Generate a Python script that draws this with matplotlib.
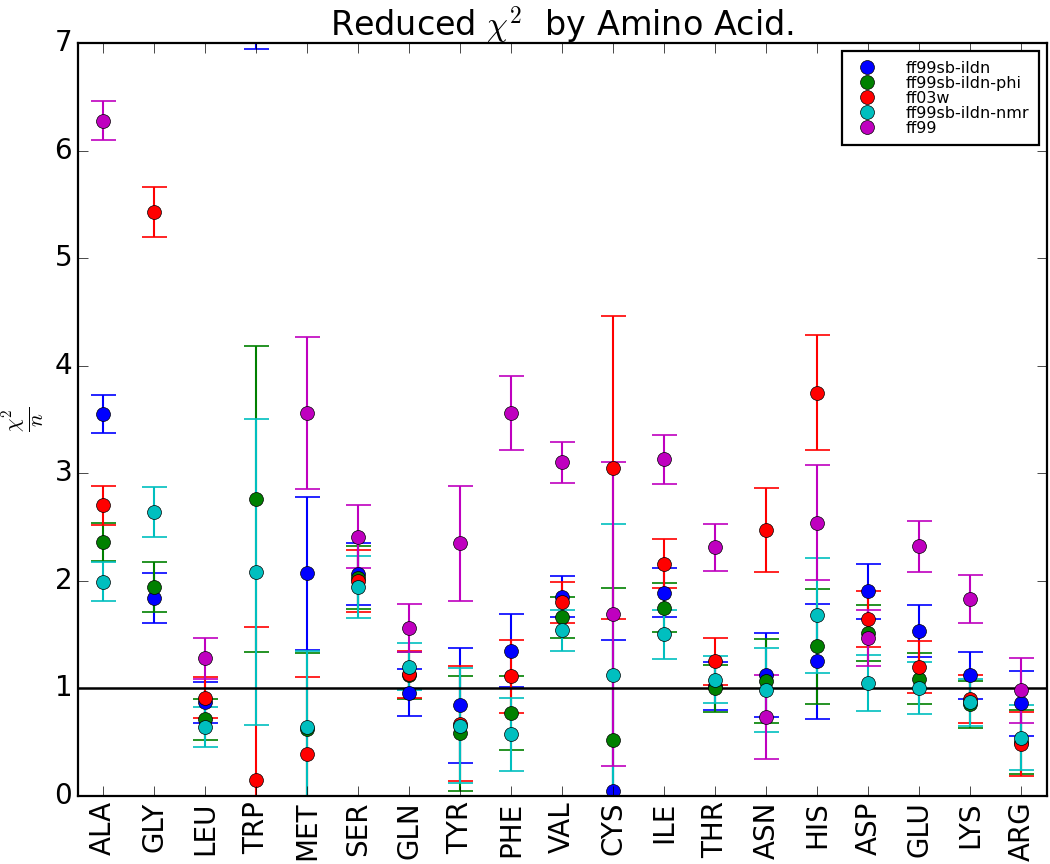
import numpy as np
import matplotlib
matplotlib.use("Agg")
import matplotlib.pyplot as plt
from matplotlib.lines import Line2D

plt.style.use("classic")
matplotlib.rcParams.update({
    "font.size": 20,
    "xtick.major.size": 7,
    "ytick.major.size": 7,
    "axes.linewidth": 1.6,
})

residues = ["ALA", "GLY", "LEU", "TRP", "MET", "SER", "GLN", "TYR", "PHE", "VAL",
            "CYS", "ILE", "THR", "ASN", "HIS", "ASP", "GLU", "LYS", "ARG"]

# reduced chi^2 per residue (values above 7 fall outside the plotted range)
ff99sb_ildn     = [3.55, 1.84, 0.87, 8.37, 2.07, 2.06, 0.96, 0.84, 1.35, 1.85,
                   0.04, 1.89, 1.02, 1.12, 1.25, 1.90, 1.53, 1.12, 0.86]
ff99sb_ildn_phi = [2.36, 1.94, 0.71, 2.76, 0.62, 2.03, 1.12, 0.58, 0.77, 1.66,
                   0.52, 1.75, 1.00, 1.07, 1.39, 1.51, 1.09, 0.85, 0.50]
ff03w           = [2.70, 5.43, 0.91, 0.15, 0.39, 2.00, 1.13, 0.67, 1.11, 1.80,
                   3.05, 2.16, 1.25, 2.47, 3.75, 1.64, 1.20, 0.90, 0.48]
ff99sb_ildn_nmr = [1.99, 2.64, 0.64, 2.08, 0.64, 1.94, 1.20, 0.65, 0.57, 1.54,
                   1.12, 1.50, 1.08, 0.98, 1.68, 1.05, 1.00, 0.87, 0.54]
ff99            = [6.28, 7.90, 1.28, 8.60, 3.56, 2.41, 1.56, 2.35, 3.56, 3.10,
                   1.69, 3.13, 2.31, 0.73, 2.54, 1.47, 2.32, 1.83, 0.98]

# error bar half-width per residue (same for every force field)
errors = [0.18, 0.23, 0.19, 1.42, 0.71, 0.29, 0.22, 0.535, 0.34, 0.19,
          1.41, 0.23, 0.22, 0.39, 0.535, 0.26, 0.24, 0.22, 0.30]

SERIES = [
    ("ff99sb-ildn",     ff99sb_ildn,     "b"),
    ("ff99sb-ildn-phi", ff99sb_ildn_phi, "g"),
    ("ff03w",           ff03w,           "r"),
    ("ff99sb-ildn-nmr", ff99sb_ildn_nmr, "c"),
    ("ff99",            ff99,            "m"),
]

fig = plt.figure(figsize=(10.5, 8.64), dpi=100)
ax = fig.add_axes([0.074, 0.079, 0.923, 0.871])

x = np.arange(len(residues))
handles = []
for label, vals, col in SERIES:
    ax.errorbar(x, vals, yerr=errors, fmt="o", color=col, ecolor=col,
                markeredgecolor="k", markersize=10, elinewidth=1.5,
                capsize=9, capthick=1.2)
    # legend shows the marker only
    handles.append(Line2D([], [], ls="none", marker="o", color=col,
                          markeredgecolor="k", markersize=10, label=label))

ax.axhline(1.0, color="k", lw=1.8)

ax.set_xlim(-0.5, len(residues) - 0.5)
ax.set_ylim(0, 7)
ax.set_xticks(x)
ax.set_xticklabels(residues, rotation=90)
ax.set_title(r"Reduced $\chi^2$  by Amino Acid.", fontsize=24)
ax.set_ylabel(r"$\frac{\chi^2}{n}$", fontsize=22)

leg = ax.legend(handles=handles, loc="upper right", numpoints=1, fontsize=11.5,
                handletextpad=1.4, labelspacing=0.0, borderpad=0.6, frameon=True)
leg.get_frame().set_linewidth(1.6)

fig.savefig("out.png", dpi=100)
